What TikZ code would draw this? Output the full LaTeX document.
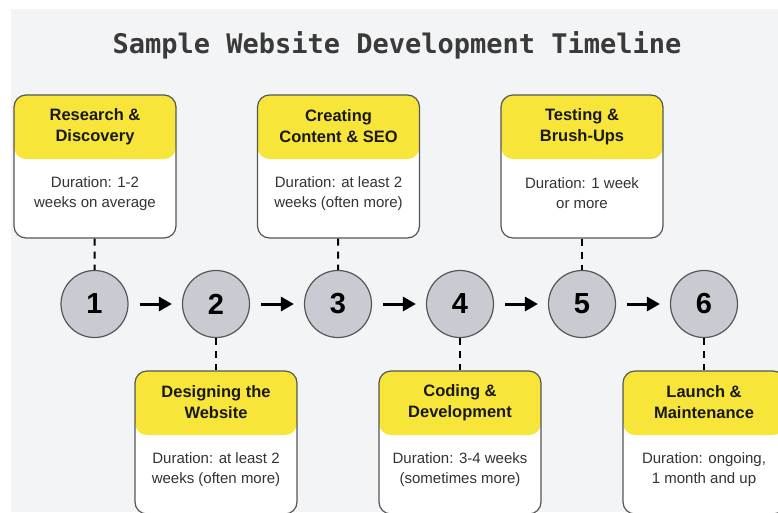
\documentclass[tikz,border=0pt]{standalone}
\usepackage{fontspec}
\setmainfont{Liberation Sans}
\newfontfamily\titlefont{DejaVu Sans Mono}
\usetikzlibrary{positioning,arrows.meta}
\definecolor{pagegray}{HTML}{F3F4F6}
\definecolor{stepyellow}{HTML}{F8E53A}
\definecolor{circlegray}{HTML}{C8CBD2}
\definecolor{boxline}{HTML}{555555}
\definecolor{bodygray}{HTML}{333333}
\definecolor{titlegray}{HTML}{3A3A3A}

\begin{document}
\begin{tikzpicture}[x=1pt,y=-1pt,
    stepbox/.style={draw=boxline, line width=1.2pt, rounded corners=12pt, fill=white,
        minimum width=162pt, minimum height=143pt, inner sep=0pt,
        path picture={\fill[stepyellow] (path picture bounding box.north west) rectangle ([yshift=-64pt]path picture bounding box.north east);}},
    headtext/.style={align=center, text=black!90, font=\fontsize{16.5}{21}\selectfont\bfseries},
    bodytext/.style={align=center, text=bodygray, font=\fontsize{15}{20}\selectfont},
    stepcircle/.style={circle, draw=boxline, line width=1.2pt, fill=circlegray, minimum size=67pt,
        inner sep=0pt, font=\fontsize{29}{29}\selectfont\bfseries},
    steparrow/.style={-{Triangle[length=13pt,width=14pt]}, line width=3pt, shorten <=11pt, shorten >=10pt},
    stepdash/.style={line width=2pt, dash pattern=on 7pt off 6pt}]
    \useasboundingbox (0,0) rectangle (778,512);
    \fill[pagegray] (11,9) rectangle (778,512);

    % title
    \node[font=\titlefont\fontsize{27}{27}\selectfont\bfseries, text=titlegray] (title) at (397,45) {Sample Website Development Timeline};

    % steps
    \node[stepcircle] (c1) at (94.5,304) {1};
    \node[stepcircle] (c2) at (216,304) {2};
    \node[stepcircle] (c3) at (338,304) {3};
    \node[stepcircle] (c4) at (460,304) {4};
    \node[stepcircle] (c5) at (582,304) {5};
    \node[stepcircle] (c6) at (704,304) {6};
    \draw[steparrow] (c1) -- (c2);
    \draw[steparrow] (c2) -- (c3);
    \draw[steparrow] (c3) -- (c4);
    \draw[steparrow] (c4) -- (c5);
    \draw[steparrow] (c5) -- (c6);

    % boxes above
    \node[stepbox] (b1) at (95,166.5) {};
    \node[headtext] (h1) at (95,126.5) {Research \&\\Discovery};
    \node[bodytext] (d1) at (95,193.5) {Duration: 1-2\\weeks on average};
    \node[stepbox] (b3) at (338.5,166.5) {};
    \node[headtext] (h3) at (338.5,126.5) {Creating\\Content \& SEO};
    \node[bodytext] (d3) at (338.5,193.5) {Duration: at least 2\\weeks (often more)};
    \node[stepbox] (b5) at (582,166.5) {};
    \node[headtext] (h5) at (582,126.5) {Testing \&\\Brush-Ups};
    \node[bodytext] (d5) at (582,193.5) {Duration: 1 week\\or more};

    % boxes below
    \node[stepbox] (b2) at (216,442.5) {};
    \node[headtext] (h2) at (216,402.5) {Designing the\\Website};
    \node[bodytext] (d2) at (216,469.5) {Duration: at least 2\\weeks (often more)};
    \node[stepbox] (b4) at (460,442.5) {};
    \node[headtext] (h4) at (460,402.5) {Coding \&\\Development};
    \node[bodytext] (d4) at (460,469.5) {Duration: 3-4 weeks\\(sometimes more)};
    \node[stepbox] (b6) at (704,442.5) {};
    \node[headtext] (h6) at (704,402.5) {Launch \&\\Maintenance};
    \node[bodytext] (d6) at (704,469.5) {Duration: ongoing,\\1 month and up};

    \draw[stepdash] (b1) -- (c1);
    \draw[stepdash] (b3) -- (c3);
    \draw[stepdash] (b5) -- (c5);
    \draw[stepdash] (c2) -- (b2);
    \draw[stepdash] (c4) -- (b4);
    \draw[stepdash] (c6) -- (b6);
\end{tikzpicture}
\end{document}
